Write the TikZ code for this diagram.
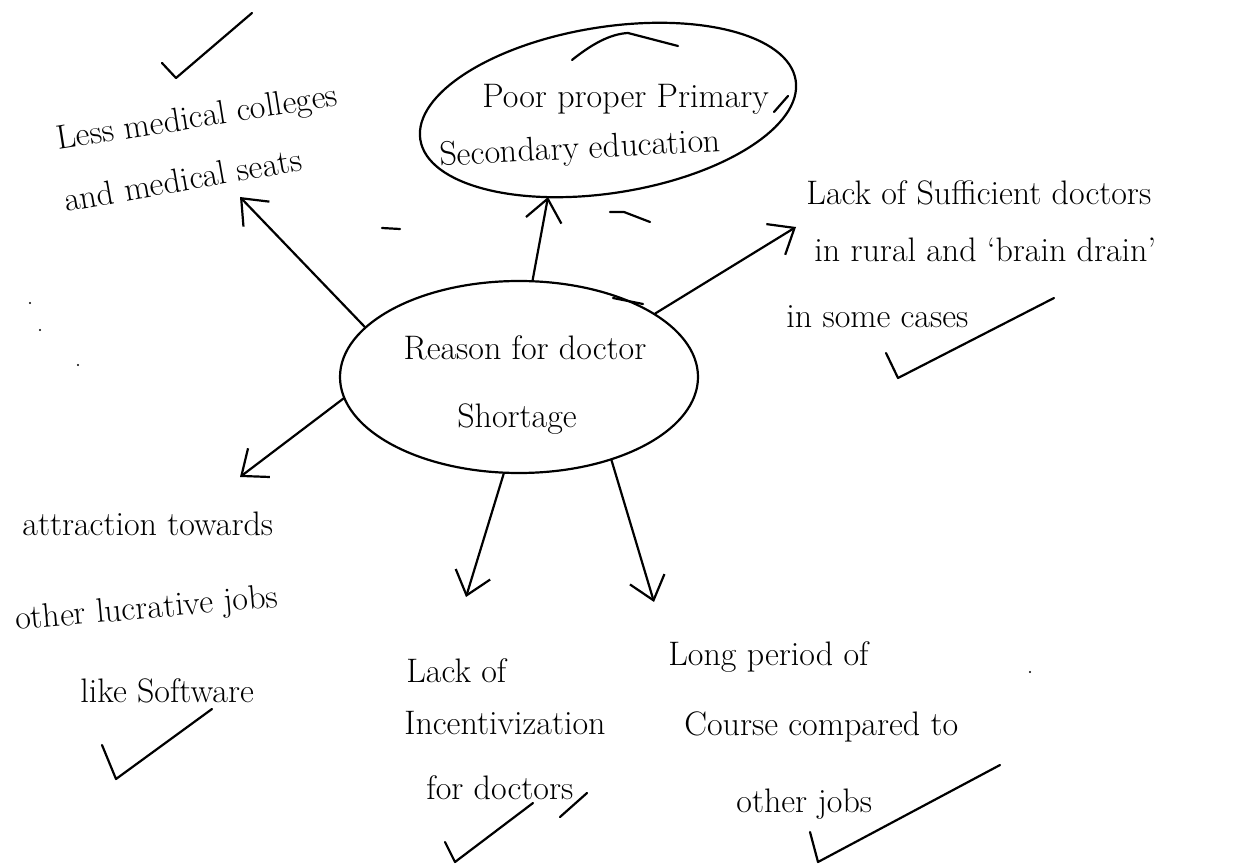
\documentclass[tikz,border=0pt]{standalone}
\usetikzlibrary{shapes.geometric,arrows.meta}
\begin{document}
\begin{tikzpicture}[x=0.5pt,y=-0.5pt,
  ink/.style={line width=1.1pt, line cap=round, line join=round},
  hand/.style={font=\fontsize{17}{20}\selectfont, inner sep=0pt, anchor=base west},
  bubble/.style={draw, ink, ellipse, inner sep=0pt},
  spoke/.style={ink, -{Straight Barb[length=11pt,width=18pt]}}]
\useasboundingbox (0,0) rectangle (1245,865);

% central topic
\node[bubble, minimum width=179pt, minimum height=96pt] (c) at (519,377) {};
\node[hand, anchor=base] (c1) at (525,360) {Reason for doctor};
\node[hand, anchor=base] (c2) at (517,428) {Shortage};

% top branch, circled
\node[bubble, minimum width=190pt, minimum height=83pt, rotate=9] (t) at (608,110) {};
\node[hand] (t1) at (482,108) {Poor proper Primary};
\node[hand, rotate=3] (t2) at (440,166) {Secondary education};
% overlapping start and end of the hand-drawn loop
\draw[ink] (572,60) .. controls (592,44) and (610,34) .. (628,33) -- (678,46);
\draw[ink] (774,112) -- (788,96);

% upper left branch
\node[hand, rotate=9] (l1) at (58,150) {Less medical colleges};
\node[hand, rotate=10] (l2) at (66,212) {and medical seats};

% right branch
\node[hand] (r1) at (806,205) {Lack of Sufficient doctors};
\node[hand] (r2) at (814,262) {in rural and `brain drain'};
\node[hand] (r3) at (786,328) {in some cases};

% lower left branch
\node[hand] (a1) at (22,535) {attraction towards};
\node[hand, rotate=5] (a2) at (16,630) {other lucrative jobs};
\node[hand] (a3) at (80,702) {like Software};

% bottom middle branch
\node[hand] (i1) at (406,682) {Lack of};
\node[hand] (i2) at (404,734) {Incentivization};
\node[hand] (i3) at (426,799) {for doctors};

% bottom right branch
\node[hand] (p1) at (668,665) {Long period of};
\node[hand] (p2) at (684,735) {Course compared to};
\node[hand] (p3) at (736,812) {other jobs};

% arrow tips
\coordinate (tipL) at (240,197);
\coordinate (tipT) at (548,197);
\coordinate (tipR) at (796,227);
\coordinate (tipA) at (240,477);
\coordinate (tipI) at (466,597);
\coordinate (tipP) at (654,602);

\draw[spoke] (c.162) -- (tipL);
\draw[spoke] (c.82) -- (tipT);
\draw[spoke] (c.25) -- (tipR);
\draw[spoke] (c.187) -- (tipA);
\draw[spoke] (c.261) -- (tipI);
\draw[spoke] (c.318) -- (tipP);

% tick marks
\draw[ink] (162,63) -- (176,78) -- (252,13);
\draw[ink] (886,353) -- (898,378) -- (1054,298);
\draw[ink] (102,745) -- (116,779) -- (212,709);
\draw[ink] (445,842) -- (455,862) -- (533,803);
\draw[ink] (560,817) -- (587,793);
\draw[ink] (810,832) -- (818,862) -- (1000,765);

% stray pen marks
\draw[ink] (382,228) -- (400,229);
\draw[ink] (610,212) -- (624,212) -- (650,222);
\draw[ink] (613,298) -- (643,304);
\fill (30,303) circle (1.2);
\fill (40,330) circle (1.2);
\fill (78,365) circle (1.2);
\fill (1030,672) circle (1.2);
\end{tikzpicture}
\end{document}
